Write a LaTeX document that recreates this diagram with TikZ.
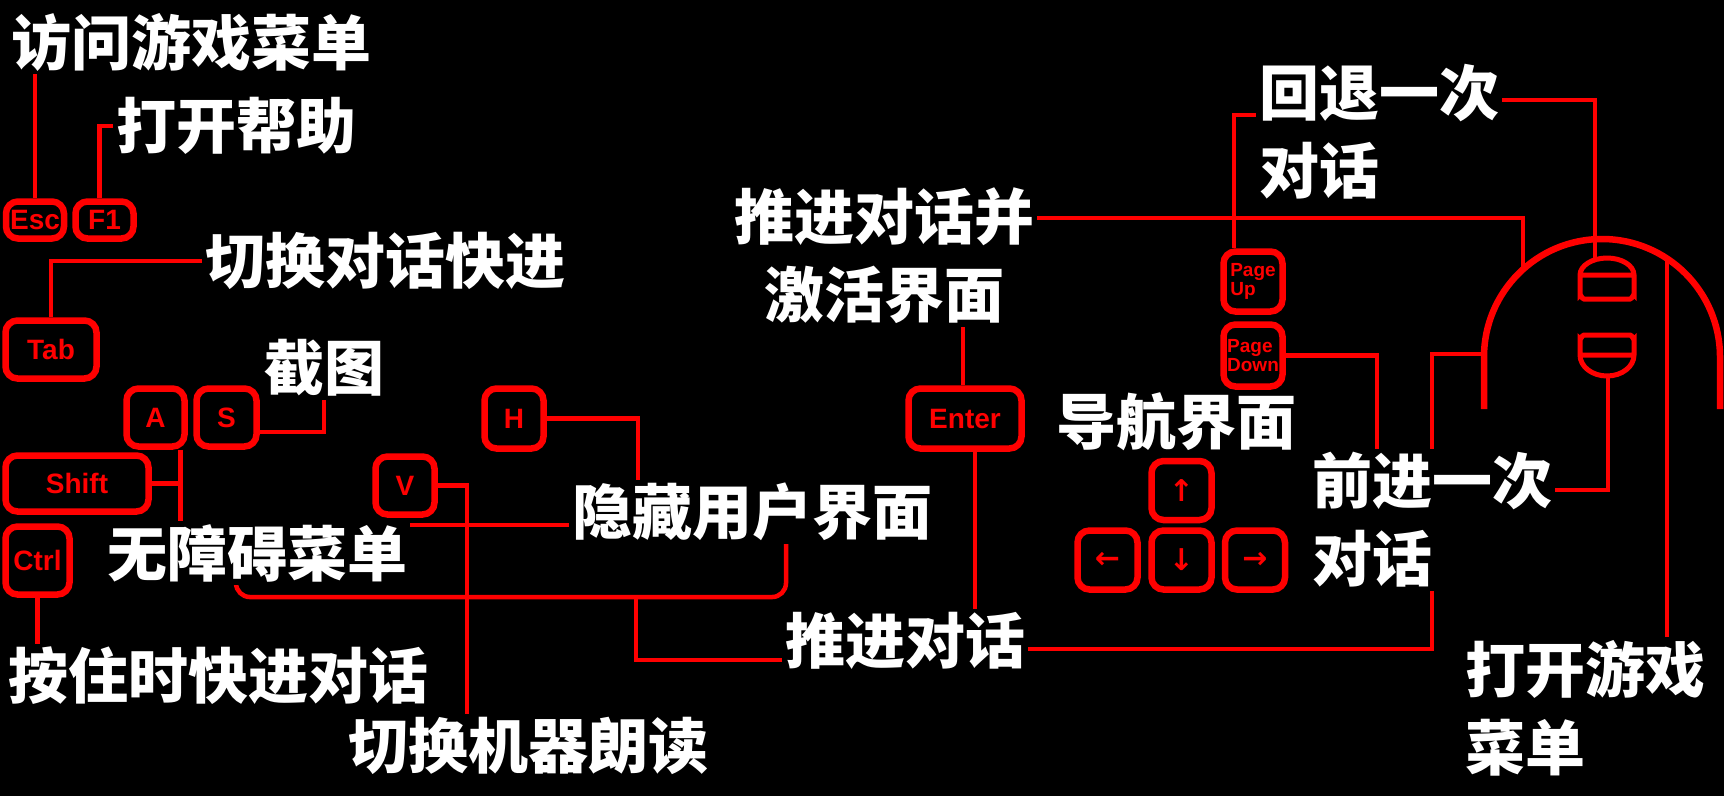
\documentclass[tikz,border=0pt]{standalone}
\usepackage{fontspec}
\newfontfamily\cjk{Noto Sans CJK SC}
\newfontfamily\keyfont{Liberation Sans}
\newfontfamily\symfont{DejaVu Sans}
\usetikzlibrary{calc, positioning}
\pgfdeclarelayer{bg}
\pgfsetlayers{bg,main}
\definecolor{keyred}{RGB}{255, 0, 0}

\begin{document}
\begin{tikzpicture}[x=1pt, y=-1pt,
		wire/.style={draw=keyred, line width=4.5pt},
		keycap/.style={draw=keyred, line width=6.5pt, rounded corners=12pt, fill=black, text=keyred, inner sep=0pt, align=center, font=\keyfont\bfseries\fontsize{28}{28}\selectfont},
		txt/.style={fill=black, text=white, inner sep=3pt, align=left, font=\cjk\bfseries\fontsize{60}{78}\selectfont}]
	
	\useasboundingbox (0,0) rectangle (1724,796);
	
	% keyboard keys
	\foreach \nm/\cx/\cy/\w/\h/\lab in {esc/35/220/58/37/Esc, f1/104.5/220/58/37/F1, tab/51/349.5/91/58/Tab,
		ka/155.5/417.5/58/58/A, ks/226.5/417.5/60/58/S, shift/77/483.5/143/56/Shift,
		ctrl/37.5/560.5/64/68/Ctrl, kh/514/418.5/59/60/H, kv/405/485.5/59/58/V, enter/965/418.5/113/60/Enter} {
		\node[keycap, minimum width=\w, minimum height=\h] (\nm) at (\cx,\cy) {\lab};
	}
	\node[keycap, minimum width=59, minimum height=60, align=left, font=\keyfont\bfseries\fontsize{19}{19}\selectfont] (pgup) at (1253,281.5) {Page\\Up};
	\node[keycap, minimum width=59, minimum height=62, align=left, font=\keyfont\bfseries\fontsize{19}{19}\selectfont] (pgdn) at (1253,355.5) {Page\\Down};
	
	% arrow keys
	\foreach \nm/\cx/\cy/\lab in {k-up/1181.5/490.5/↑, k-left/1107.5/560/←, k-down/1181.5/560/↓, k-right/1255/560/→} {
		\node[keycap, minimum width=60, minimum height=59, font=\symfont\bfseries\fontsize{30}{30}\selectfont] (\nm) at (\cx,\cy) {\lab};
	}
	
	% labels
	\node[txt] (t-gmenu) at (192,42) {访问游戏菜单};
	\node[txt] (t-help) at (236,126) {打开帮助};
	\node[txt] (t-skip) at (385,261) {切换对话快进};
	\node[txt] (t-shot) at (324,368) {截图};
	\node[txt] (t-acc) at (257,553) {无障碍菜单};
	\node[txt] (t-hold) at (219,676) {按住时快进对话};
	\node[txt] (t-voice) at (528,746) {切换机器朗读};
	\node[txt] (t-hide) at (752,512) {隐藏用户界面};
	\node[txt, align=center] (t-advact) at (884,256) {推进对话并\\激活界面};
	\node[txt] (t-nav) at (1176,422) {导航界面};
	\node[txt] (t-adv) at (905,641) {推进对话};
	\node[txt, anchor=west] (t-back) at (1256,132) {回退一次\\对话};
	\node[txt, anchor=west] (t-fwd) at (1309,520) {前进一次\\对话};
	\node[txt, anchor=west] (t-menu) at (1462,708) {打开游戏\\菜单};
	
	% mouse
	\coordinate (mouse-w) at (1484,354);
	\coordinate (mouse-nw) at (1523,269);
	\coordinate (mouse-ne) at (1667,258);
	\coordinate (lmb-top) at (1595,260);
	\coordinate (rmb-bot) at (1608,376);
	\draw[keyred, line width=6.5pt] (1484,409) -- (1484,357) arc[start angle=180, end angle=360, radius=118] -- (1720,409);
	\draw[keyred, line width=5pt] (1580,275) arc[start angle=180, end angle=360, x radius=27, y radius=17] -- (1634,295) to[out=90, in=0] (1630,299) -- (1584,299) to[out=180, in=90] (1580,295) -- cycle (1580,275) -- (1634,275);
	\draw[keyred, line width=5pt] (1634,355) arc[start angle=0, end angle=180, x radius=27, y radius=21] -- (1580,339) to[out=-90, in=180] (1584,335) -- (1630,335) to[out=0, in=-90] (1634,339) -- cycle (1580,355) -- (1634,355);
	
	\begin{pgfonlayer}{bg}
		\fill[black] (0,0) rectangle (1724,796);
		% left side
		\draw[wire] (esc.north) -- (esc.north |- t-gmenu.south);
		\draw[wire] ([xshift=-5pt]f1.north) |- (t-help.west);
		\draw[wire] (tab.north) |- (t-skip.west);
		\draw[wire] ([yshift=-14.5pt]ks.east) -| (t-shot.south);
		\draw[wire] ([xshift=25pt]ka.south) coordinate (acc-up) -- (acc-up |- t-acc.north);
		\draw[wire] (shift.east) -- (shift.east -| acc-up);
		\draw[wire] (ctrl.south) -- (ctrl.south |- t-hold.north);
		\draw[wire] (kv.east) -| ([xshift=-61pt]t-voice.north);
		\draw[wire] (kh.east) -| ([xshift=-114pt]t-hide.north);
		\draw[wire] ([yshift=-13pt]t-hide.west) -- ++(-222,0);
		\draw[wire, rounded corners=14pt] ([xshift=-21pt]t-acc.south) -- ++(0,12) coordinate (brk) -| ([xshift=34pt]t-hide.south);
		\draw[wire] ([xshift=400pt]brk) |- ([yshift=-19pt]t-adv.west);
		% middle
		\draw[wire] ([xshift=-2pt]enter.north) -- ([xshift=-2pt]enter.north |- t-advact.south);
		\draw[wire] ([xshift=10pt]enter.south) -- ([xshift=10pt]enter.south |- t-adv.north);
		\draw[wire] ([yshift=-8pt]t-adv.east) -| ([xshift=-52pt]mouse-w) -- (mouse-w);
		\draw[wire] ([yshift=38pt]t-advact.east) -| (mouse-nw);
		% right side
		\draw[wire] ([yshift=17pt]t-back.west) -| ([xshift=-19pt]pgup.north);
		\draw[wire] ([yshift=32pt]t-back.east) -| (lmb-top);
		\draw[wire] (pgdn.east) -| ([xshift=68pt]t-fwd.north west);
		\draw[wire] ([yshift=30pt]t-fwd.east) -| (rmb-bot);
		\draw[wire] (mouse-ne) -- (mouse-ne |- t-menu.north);
	\end{pgfonlayer}
	
\end{tikzpicture}
\end{document}
